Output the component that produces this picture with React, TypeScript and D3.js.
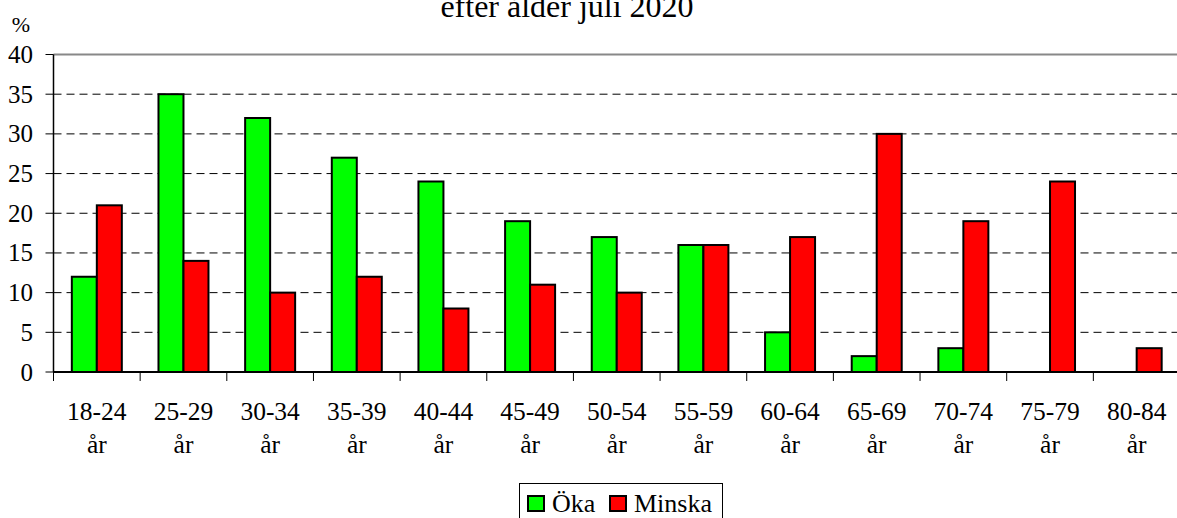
import * as d3 from "d3";

const categories = ["18-24", "25-29", "30-34", "35-39", "40-44", "45-49", "50-54", "55-59", "60-64", "65-69", "70-74", "75-79", "80-84"];
const oka = [12, 35, 32, 27, 24, 19, 17, 16, 5, 2, 3, 0, 0];
const minska = [21, 14, 10, 12, 8, 11, 10, 16, 17, 30, 19, 24, 3];
const yTicks = [0, 5, 10, 15, 20, 25, 30, 35, 40];
const seriesNames = ["Öka", "Minska"];
const colors = ["#00ff00", "#ff0000"];

const W = 1177;
const H = 518;
const left = 53.5;
const right = 1180;
const top = 54.5;
const bottom = 372;

const App = () => {
  const x = d3.scaleBand().domain(categories).range([left, right]).paddingInner(0).paddingOuter(0);
  const y = d3.scaleLinear().domain([0, 40]).range([bottom, top]);
  const barW = 25;
  const series = [oka, minska];

  return (
    <svg width={W} height={H} style={{ display: "block", position: "absolute", left: 0, top: 0, background: "#fff" }}>
      <style>{`text { font-family: "Liberation Serif", serif; }`}</style>
      {/* title is cut by the top edge in the original too */}
      <text x={567} y={17} fontSize={32} textAnchor="middle">efter ålder juli 2020</text>
      <text x={21} y={32} fontSize={22} textAnchor="middle">%</text>

      {yTicks.map((t) => (
        <g key={t}>
          {t > 0 && t < 40 && (
            <line x1={left} x2={right} y1={y(t)} y2={y(t)} stroke="#000" strokeWidth={1} strokeDasharray="8,5" />
          )}
          {t === 40 && <line x1={left} x2={right} y1={y(t)} y2={y(t)} stroke="#888" strokeWidth={2} />}
          <line x1={left - 8} x2={left} y1={y(t)} y2={y(t)} stroke="#000" strokeWidth={1} />
          <text x={33} y={y(t) + 8.5} fontSize={25} textAnchor="end">{t}</text>
        </g>
      ))}

      {categories.map((c, i) => {
        const cx = (x(c) as number) + x.bandwidth() / 2;
        return (
          <g key={c}>
            {series.map((s, j) =>
              s[i] > 0 ? (
                <rect
                  key={j}
                  x={cx - barW + j * barW}
                  y={y(s[i])}
                  width={barW}
                  height={bottom - y(s[i])}
                  fill={colors[j]}
                  stroke="#000"
                  strokeWidth={2}
                />
              ) : null
            )}
            <text x={cx} y={420} fontSize={25.5} textAnchor="middle">{c}</text>
            <text x={cx} y={453} fontSize={25.5} textAnchor="middle">år</text>
          </g>
        );
      })}

      {categories.map((c, i) => (
        <line key={"t" + i} x1={x(c) as number} x2={x(c) as number} y1={bottom} y2={bottom + 9} stroke="#000" strokeWidth={1} />
      ))}
      <line x1={left} x2={right} y1={bottom} y2={bottom} stroke="#000" strokeWidth={2} />
      <line x1={left} x2={left} y1={top} y2={bottom} stroke="#000" strokeWidth={1.5} />

      <g>
        <rect x={519.5} y={483.5} width={203} height={40} fill="#fff" stroke="#000" strokeWidth={1} />
        {seriesNames.map((n, j) => {
          const sx = j === 0 ? 528 : 610;
          return (
            <g key={n}>
              <rect x={sx} y={496} width={16} height={15} fill={colors[j]} stroke="#000" strokeWidth={2} />
              <text x={sx + 24} y={512} fontSize={26}>{n}</text>
            </g>
          );
        })}
      </g>
    </svg>
  );
};

export default App;
